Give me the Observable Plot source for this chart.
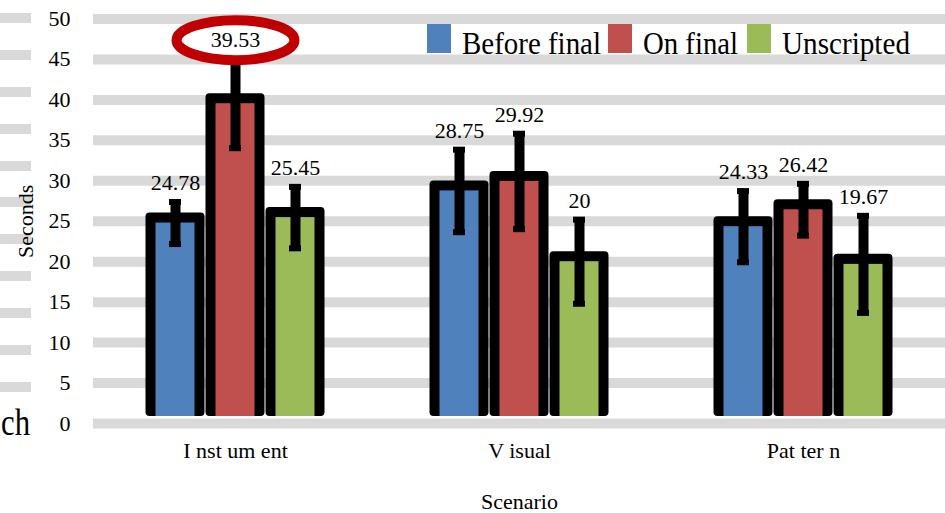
<!DOCTYPE html>
<html><head><meta charset="utf-8">
<script src="https://cdn.jsdelivr.net/npm/d3@7"></script>
<script src="https://cdn.jsdelivr.net/npm/@observablehq/plot@0.6"></script>
<style>
body{margin:0;background:#fff;}
#wrap{position:relative;width:945px;height:513px;overflow:hidden;background:#fff;}
#stubs{position:absolute;left:0;top:0;width:31px;height:395px;
  background:repeating-linear-gradient(to bottom, transparent 0px, transparent 13px, #d9d9d9 13px, #d9d9d9 23px, transparent 23px, transparent 36.9px);}
#chart{position:absolute;left:0;top:0;}
#overlay{position:absolute;left:0;top:0;pointer-events:none;font-family:'Liberation Serif','Times New Roman',serif;}
</style></head>
<body>
<div id="wrap"><div id="stubs"></div><div id="chart"></div><svg id="overlay" width="945" height="513"></svg></div>
<script>
// ---- data ----
const scenarios = ["I nst um ent", "V isual", "Pat ter n"];
const series = ["Before final", "On final", "Unscripted"];
const values = [
  [24.78, 39.53, 25.45],
  [28.75, 29.92, 20],
  [24.33, 26.42, 19.67]
];
const errors = [
  [2.6, 5.5, 3.8],
  [5.1, 5.9, 5.2],
  [4.4, 3.2, 6.0]
];
const colors = ["#4f81bd", "#c0504d", "#9bbb59"];
const yTicks = [0, 5, 10, 15, 20, 25, 30, 35, 40, 45, 50];

const data = scenarios.flatMap((s, i) => series.map((k, j) => ({
  scenario: s, series: k, value: values[i][j], err: errors[i][j]
})));
const maxVal = d3.max(values.flat());

// ellipse symbol for the highlight
const ellipse = {
  draw(ctx) {
    const rx = 59, ry = 20, k = 0.5523;
    ctx.moveTo(rx, 0);
    ctx.bezierCurveTo(rx, ry * k, rx * k, ry, 0, ry);
    ctx.bezierCurveTo(-rx * k, ry, -rx, ry * k, -rx, 0);
    ctx.bezierCurveTo(-rx, -ry * k, -rx * k, -ry, 0, -ry);
    ctx.bezierCurveTo(rx * k, -ry, rx, -ry * k, rx, 0);
    ctx.closePath();
  }
};

const hi = d => d.value + d.err;
const lo = d => d.value - d.err;

const chart = Plot.plot({
  width: 945,
  height: 513,
  marginLeft: 93,
  marginRight: 0,
  marginTop: 18.5,
  marginBottom: 90,
  style: {background: "transparent", fontFamily: "'Liberation Serif','Times New Roman',serif", fontSize: "22px", color: "black"},
  fx: {domain: scenarios, paddingInner: 0, paddingOuter: 0, axis: "bottom", tickSize: 0, tickPadding: 19,
       label: "Scenario", labelAnchor: "center", labelOffset: 85, labelArrow: "none"},
  x: {domain: series, paddingInner: 0, paddingOuter: 0.83, axis: null},
  y: {domain: [0, 50], ticks: yTicks, tickSize: 0, tickPadding: 23,
      label: "Seconds", labelAnchor: "center", labelOffset: 76, labelArrow: "none"},
  color: {domain: series, range: colors},
  marks: [
    Plot.ruleY(yTicks, {stroke: "#d9d9d9", strokeWidth: 10}),
    Plot.barY(data, {fx: "scenario", x: "series", y: "value", fill: "black",
      insetLeft: 0.5, insetRight: 0.5, insetTop: -10, insetBottom: 7, rx: 4}),
    Plot.barY(data, {fx: "scenario", x: "series", y: "value", fill: "series",
      insetLeft: 10.5, insetRight: 10.5, insetBottom: 7}),
    Plot.ruleX(data, {fx: "scenario", x: "series", y1: lo, y2: hi, stroke: "black", strokeWidth: 10}),
    Plot.tickY(data, {fx: "scenario", x: "series", y: hi, stroke: "black", strokeWidth: 6, insetLeft: 24, insetRight: 24}),
    Plot.tickY(data, {fx: "scenario", x: "series", y: lo, stroke: "black", strokeWidth: 6, insetLeft: 24, insetRight: 24}),
    Plot.dot(data.filter(d => d.value === maxVal), {fx: "scenario", x: "series", y: hi, dy: -19,
      symbol: ellipse, r: 10, fill: "white", stroke: "#c00000", strokeWidth: 10}),
    Plot.text(data, {fx: "scenario", x: "series", y: hi, dy: -19, text: d => String(d.value),
      fontSize: 22, fill: "black"})
  ]
});
document.getElementById("chart").appendChild(chart);

// ---- overlay: legend and cropped neighbour text ----
const ov = d3.select("#overlay");
const legendX = [427, 608, 747];
const legendTextW = [139, 95, 128];
series.forEach((s, i) => {
  ov.append("rect").attr("x", legendX[i]).attr("y", 24).attr("width", 24).attr("height", 29).attr("fill", colors[i]);
  ov.append("text").attr("x", legendX[i] + 35).attr("y", 54).attr("font-size", 31)
    .attr("textLength", legendTextW[i]).attr("lengthAdjust", "spacingAndGlyphs").attr("fill", "black").text(s);
});
ov.append("text").attr("x", 1).attr("y", 435).attr("font-size", 38)
  .attr("textLength", 29).attr("lengthAdjust", "spacingAndGlyphs").attr("fill", "black").text("ch");
</script>
</body></html>
